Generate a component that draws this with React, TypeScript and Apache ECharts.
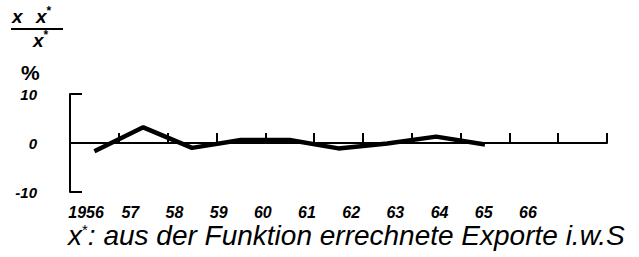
import React, { useEffect, useRef } from 'react';
import * as echarts from 'echarts';

const years = ['1956', '57', '58', '59', '60', '61', '62', '63', '64', '65', '66'];
const deviation: (number | null)[] = [-1.7, 3.2, -1.0, 0.6, 0.6, -1.1, -0.1, 1.3, -0.3, null, null];
const yMin = -10;
const yMax = 10;
const yStep = 10;
const caption = ': aus der Funktion errechnete Exporte i.w.S';

export default function App() {
  const ref = useRef<HTMLDivElement>(null);
  useEffect(() => {
    const chart = echarts.init(ref.current!, null, { renderer: 'svg' });
    const font = 'Liberation Sans';
    const black = '#000';
    chart.setOption({
      animation: false,
      backgroundColor: '#fff',
      grid: [
        { left: 70, right: 32, top: 94, bottom: 65 },
        { left: 64, width: 486, top: 94, bottom: 65 },
      ],
      xAxis: [
        {
          type: 'category', data: years, gridIndex: 0, boundaryGap: true,
          axisLine: { lineStyle: { color: black, width: 2 } },
          axisTick: { show: true, interval: 0, inside: true, length: 10, lineStyle: { width: 2, color: black } },
          axisLabel: { show: false },
        },
        {
          type: 'category', data: years, gridIndex: 1, boundaryGap: true,
          axisLine: { show: false }, axisTick: { show: false },
          axisLabel: { interval: 0, color: black, fontSize: 16, fontStyle: 'italic', fontWeight: 'bold', fontFamily: font, margin: 12 },
        },
      ],
      yAxis: [
        {
          type: 'value', gridIndex: 0, min: yMin, max: yMax, interval: yStep,
          splitLine: { show: false },
          axisLine: { show: true, lineStyle: { color: black, width: 2 } },
          axisTick: { show: true, inside: true, length: 12, lineStyle: { width: 2, color: black } },
          axisLabel: { color: black, fontSize: 15, fontStyle: 'italic', fontWeight: 'bold', fontFamily: font, margin: 33 },
        },
        { type: 'value', gridIndex: 1, show: false, min: yMin, max: yMax },
      ],
      series: [
        {
          type: 'line', xAxisIndex: 0, yAxisIndex: 0, data: deviation, symbol: 'none',
          lineStyle: { color: black, width: 4.5 },
          markLine: {
            silent: true, symbol: 'none', label: { show: false },
            lineStyle: { color: black, width: 1.5, type: 'solid' },
            data: [{ yAxis: 0 }],
          },
        },
      ],
      graphic: [
        {
          type: 'text', left: 12, top: 5,
          style: {
            text: '{a|x}    {a|x}{s|*}',
            rich: {
              a: { fontSize: 19, fontStyle: 'italic', fontWeight: 'bold', fontFamily: font, fill: black },
              s: { fontSize: 12, fontWeight: 'bold', fontFamily: font, fill: black, padding: [0, 0, 10, 0] },
            },
          },
        },
        { type: 'line', shape: { x1: 11, y1: 29, x2: 63, y2: 29 }, style: { stroke: black, lineWidth: 2 } },
        {
          type: 'text', left: 33, top: 29,
          style: {
            text: '{a|x}{s|*}',
            rich: {
              a: { fontSize: 19, fontStyle: 'italic', fontWeight: 'bold', fontFamily: font, fill: black },
              s: { fontSize: 12, fontWeight: 'bold', fontFamily: font, fill: black, padding: [0, 0, 10, 0] },
            },
          },
        },
        {
          type: 'text', left: 21, top: 62,
          style: { text: '%', fontSize: 21, fontWeight: 'bold', fontFamily: font, fill: black },
        },
        {
          type: 'text', x: 68, y: 221,
          style: {
            text: '{a|x}{s|*}{a|' + caption + '}',
            rich: {
              a: { fontSize: 28, fontStyle: 'italic', fontFamily: font, fill: black },
              s: { fontSize: 15, fontFamily: font, fill: black, padding: [0, 0, 12, 0] },
            },
          },
        },
      ],
    });
    return () => chart.dispose();
  }, []);
  return <div ref={ref} style={{ position: 'fixed', left: 0, top: 0, width: 639, height: 257 }} />;
}
